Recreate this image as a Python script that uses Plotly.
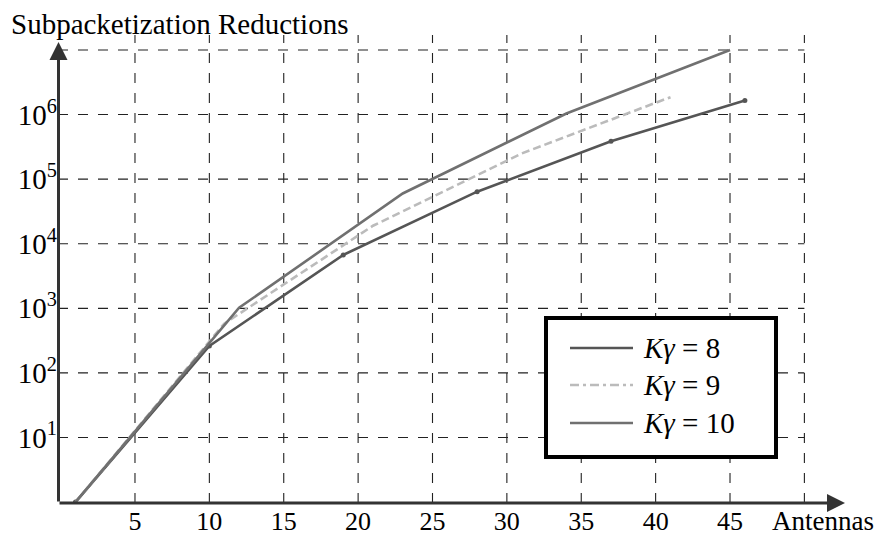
import plotly.graph_objects as go

# ---- data ----
x_k8 = [1, 10, 19, 28, 37, 46]
y_k8 = [1, 262, 6700, 64000, 385000, 1650000]

x_k9 = [1, 11, 21, 31, 41]
y_k9 = [1, 580, 19000, 250000, 1860000]

x_k10 = [1, 12, 23, 34, 45]
y_k10 = [1, 1020, 60000, 1040000, 10000000]

x_ticks = [5, 10, 15, 20, 25, 30, 35, 40, 45]
x_grid = [5, 10, 15, 20, 25, 30, 35, 40, 45, 50]
y_tick_exp = [1, 2, 3, 4, 5, 6]
y_grid_exp = [1, 2, 3, 4, 5, 6, 7]
legend_labels = ["<i>K</i><i>γ</i> = 8", "<i>K</i><i>γ</i> = 9", "<i>K</i><i>γ</i> = 10"]

# ---- layout constants ----
W, H = 881, 535
L, R, T, B = 58, 36, 35, 32
PW, PH = W - L - R, H - T - B
XLO, XHI = -0.175, 52.73
YLO, YHI = -0.014, 7.232

def ppx(xp):
    return (xp - L) / PW

def ppy(yp):
    return (H - B - yp) / PH

def logpaper(e):
    return (e - YLO) / (YHI - YLO)

FONT = "Liberation Serif"
c8, c9, c10 = "#555555", "#bbbbbb", "#707070"

fig = go.Figure()
fig.add_trace(go.Scatter(x=x_k8, y=y_k8, mode="lines+markers", name="Kγ = 8",
                         line=dict(color=c8, width=2.6), marker=dict(size=5, color=c8),
                         showlegend=False))
fig.add_trace(go.Scatter(x=x_k9, y=y_k9, mode="lines", name="Kγ = 9",
                         line=dict(color=c9, width=2.6, dash="8px,4px"),
                         showlegend=False))
fig.add_trace(go.Scatter(x=x_k10, y=y_k10, mode="lines", name="Kγ = 10",
                         line=dict(color=c10, width=2.6), showlegend=False))

shapes = []
gridline = dict(color="#222222", width=1.1, dash="10px,10px")
for gx in x_grid:
    shapes.append(dict(type="line", xref="x", yref="paper", x0=gx, x1=gx, y0=0, y1=1,
                       line=gridline, layer="below"))
for e in y_grid_exp:
    yp = logpaper(e)
    shapes.append(dict(type="line", xref="x", yref="paper", x0=XLO, x1=50, y0=yp, y1=yp,
                       line=gridline, layer="below"))

# custom legend box
shapes.append(dict(type="rect", xref="paper", yref="paper",
                   x0=ppx(546), x1=ppx(776), y0=ppy(457), y1=ppy(318),
                   line=dict(color="black", width=4), fillcolor="white", layer="above"))
leg_rows = [348, 385, 423]
leg_colors = [c8, c9, c10]
leg_dash = ["solid", "9px,4px,3px,4px", "solid"]
for row, col, dsh in zip(leg_rows, leg_colors, leg_dash):
    shapes.append(dict(type="line", xref="paper", yref="paper",
                       x0=ppx(570), x1=ppx(633), y0=ppy(row), y1=ppy(row),
                       line=dict(color=col, width=2.6, dash=dsh), layer="above"))

annotations = []
for row, lab in zip(leg_rows, legend_labels):
    annotations.append(dict(text=lab, xref="paper", yref="paper", x=ppx(641), y=ppy(row),
                            xanchor="left", yanchor="middle", showarrow=False,
                            font=dict(family=FONT, size=29, color="black")))

# axis arrows
annotations.append(dict(text="", xref="paper", yref="paper", x=1.0, y=ppy(503),
                        ax=-PW, ay=0, axref="pixel", ayref="pixel", showarrow=True,
                        arrowhead=2, arrowsize=1.2, arrowwidth=3, arrowcolor="#333333",
                        standoff=0, startstandoff=0))
annotations.append(dict(text="", xref="paper", yref="paper", x=ppx(58.5), y=ppy(42),
                        ax=0, ay=503 - 42, axref="pixel", ayref="pixel", showarrow=True,
                        arrowhead=2, arrowsize=1.2, arrowwidth=3, arrowcolor="#333333",
                        standoff=0, startstandoff=0))

annotations.append(dict(text="Subpacketization Reductions", xref="paper", yref="paper",
                        x=ppx(9), y=ppy(24), xanchor="left", yanchor="middle",
                        showarrow=False, font=dict(family=FONT, size=29, color="black")))
annotations.append(dict(text="Antennas", xref="paper", yref="paper",
                        x=ppx(876), y=ppy(521), xanchor="right", yanchor="middle",
                        showarrow=False, font=dict(family=FONT, size=27, color="black")))

fig.update_layout(
    width=W, height=H,
    margin=dict(l=L, r=R, t=T, b=B, pad=0),
    paper_bgcolor="white", plot_bgcolor="white",
    shapes=shapes, annotations=annotations,
    showlegend=False,
    xaxis=dict(range=[XLO, XHI], tickvals=x_ticks, ticktext=[str(v) for v in x_ticks],
               showgrid=False, zeroline=False, showline=False, ticks="", automargin=False,
               tickfont=dict(family=FONT, size=26, color="black")),
    yaxis=dict(type="log", range=[YLO, YHI], tickvals=[10 ** e for e in y_tick_exp],
               ticktext=["10<sup>%d</sup>" % e for e in y_tick_exp], automargin=False,
               showgrid=False, zeroline=False, showline=False, ticks="",
               tickfont=dict(family=FONT, size=29, color="black")),
)

fig.write_html("out.html", config={"displayModeBar": False},
               post_script="document.body.style.margin='0';document.body.style.overflow='hidden';")
